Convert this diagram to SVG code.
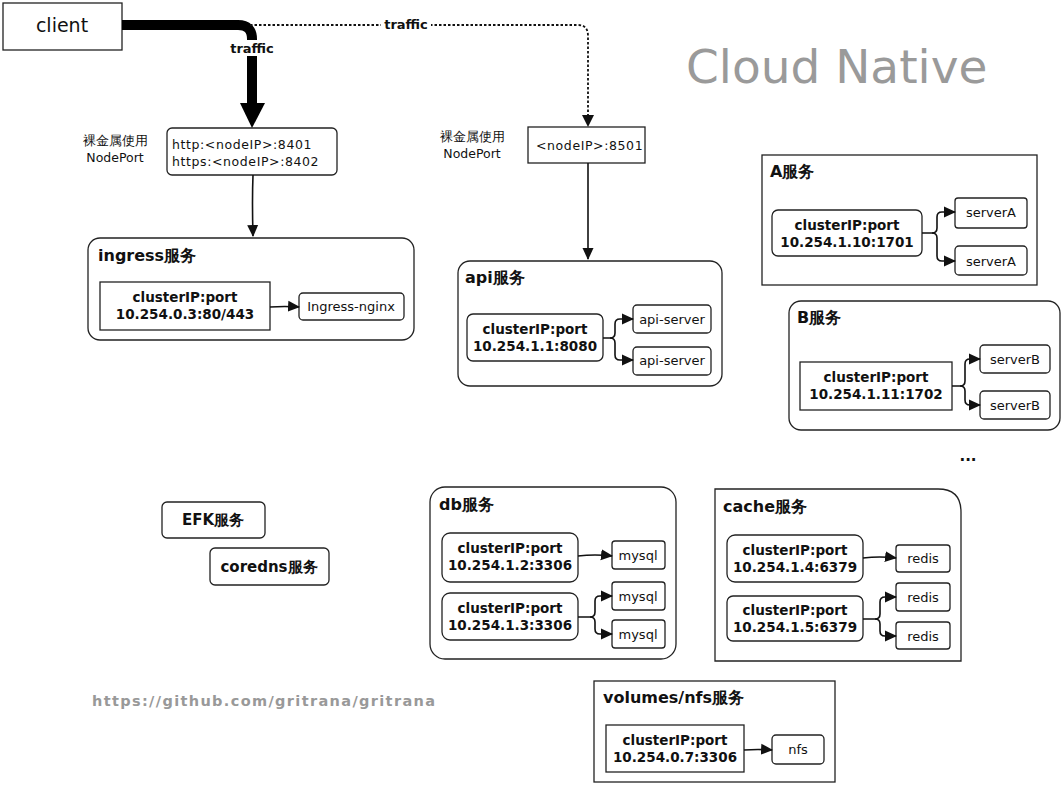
<svg xmlns="http://www.w3.org/2000/svg" width="1062" height="786" viewBox="0 0 1062 786">
<style>
text{font-family:"DejaVu Sans","Liberation Sans",sans-serif;fill:#111}
.box{fill:#fff;stroke:#222;stroke-width:1.3}
.t{font-size:16px;font-weight:bold}
.c{font-size:13.5px;font-weight:bold;text-anchor:middle}
.s{font-size:13px;text-anchor:middle}
.np{font-size:12.5px;letter-spacing:0.6px}
.lbl{font-size:12.5px;text-anchor:middle}
.ln{fill:none;stroke:#111;stroke-width:1.6}
.tr{font-size:13px;font-weight:bold;text-anchor:middle}
</style>
<defs>
<marker id="ah" markerWidth="12" markerHeight="12" refX="11" refY="6" orient="auto" markerUnits="userSpaceOnUse">
<path d="M0,0.5 L12,6 L0,11.5 Z" fill="#111"/>
</marker>
</defs>
<rect width="1062" height="786" fill="#fff"/>

<text x="686" y="83" style="font-size:47px;fill:#9a9a9a">Cloud Native</text>
<text x="92" y="706" textLength="343" lengthAdjust="spacing" style="font-size:14.5px;font-weight:bold;fill:#999">https://github.com/gritrana/gritrana</text>

<g id="client"><rect class="box" x="3" y="3" width="119" height="47"/><text x="62" y="32" style="font-size:19px;text-anchor:middle">client</text></g>

<g id="nodeport1">
<text x="115" y="145" class="lbl">裸金属使用</text><text x="115" y="162" class="lbl">NodePort</text>
<rect class="box" x="167" y="128" width="170" height="47" rx="5"/>
<text x="172" y="149" class="np">http:&lt;nodeIP&gt;:8401</text>
<text x="172" y="166" class="np">https:&lt;nodeIP&gt;:8402</text>
</g>

<g id="nodeport2">
<text x="472" y="141" class="lbl">裸金属使用</text><text x="472" y="158" class="lbl">NodePort</text>
<rect class="box" x="528" y="127" width="117" height="36"/>
<text x="536" y="150" class="np">&lt;nodeIP&gt;:8501</text>
</g>

<g id="ingress">
<rect class="box" x="88" y="238" width="326" height="102" rx="12"/>
<text x="98" y="261" class="t">ingress服务</text>
<rect class="box" x="100" y="282" width="170" height="48"/>
<text x="185" y="302" class="c">clusterIP:port</text><text x="185" y="319" class="c">10.254.0.3:80/443</text>
<rect class="box" x="299" y="293" width="105" height="27" rx="4"/>
<text x="351" y="311" class="s">Ingress-nginx</text>
</g>

<g id="api">
<rect class="box" x="458" y="261" width="264" height="125" rx="12"/>
<text x="465" y="283" class="t">api服务</text>
<rect class="box" x="467" y="314" width="136" height="47" rx="6"/>
<text x="535" y="334" class="c">clusterIP:port</text><text x="535" y="351" class="c">10.254.1.1:8080</text>
<rect class="box" x="633" y="305" width="78" height="28" rx="4"/>
<text x="672" y="324" class="s">api-server</text>
<rect class="box" x="633" y="347" width="78" height="28" rx="4"/>
<text x="672" y="365" class="s">api-server</text>
</g>

<g id="svcA">
<rect class="box" x="762" y="155" width="275" height="130"/>
<text x="770" y="177" class="t">A服务</text>
<rect class="box" x="772" y="210" width="150" height="46" rx="6"/>
<text x="847" y="230" class="c">clusterIP:port</text><text x="847" y="247" class="c">10.254.1.10:1701</text>
<rect class="box" x="955" y="198" width="72" height="30" rx="3"/>
<text x="991" y="217" class="s">serverA</text>
<rect class="box" x="955" y="246" width="72" height="29" rx="4"/>
<text x="991" y="266" class="s">serverA</text>
</g>

<g id="svcB">
<rect class="box" x="789" y="301" width="271" height="129" rx="12"/>
<text x="797" y="323" class="t">B服务</text>
<rect class="box" x="800" y="362" width="152" height="48"/>
<text x="876" y="382" class="c">clusterIP:port</text><text x="876" y="399" class="c">10.254.1.11:1702</text>
<rect class="box" x="980" y="345" width="70" height="28" rx="4"/>
<text x="1015" y="364" class="s">serverB</text>
<rect class="box" x="980" y="391" width="70" height="28" rx="4"/>
<text x="1015" y="410" class="s">serverB</text>
</g>
<text x="968" y="461" style="font-size:15px;font-weight:bold;text-anchor:middle">...</text>

<g id="efk"><rect class="box" x="162" y="502" width="103" height="36" rx="5"/><text x="213" y="525" style="font-size:15px;font-weight:bold;text-anchor:middle">EFK服务</text></g>
<g id="coredns"><rect class="box" x="210" y="548" width="119" height="37" rx="5"/><text x="269" y="572" style="font-size:15px;font-weight:bold;text-anchor:middle">coredns服务</text></g>

<g id="db">
<rect class="box" x="430" y="487" width="246" height="172" rx="15"/>
<text x="439" y="510" class="t">db服务</text>
<rect class="box" x="442" y="533" width="136" height="49" rx="8"/>
<text x="510" y="553" class="c">clusterIP:port</text><text x="510" y="570" class="c">10.254.1.2:3306</text>
<rect class="box" x="442" y="593" width="136" height="47" rx="8"/>
<text x="510" y="613" class="c">clusterIP:port</text><text x="510" y="630" class="c">10.254.1.3:3306</text>
<rect class="box" x="612" y="541" width="53" height="28" rx="3"/><text x="638" y="560" class="s">mysql</text>
<rect class="box" x="612" y="582" width="53" height="28" rx="3"/><text x="638" y="601" class="s">mysql</text>
<rect class="box" x="612" y="620" width="53" height="28" rx="3"/><text x="638" y="639" class="s">mysql</text>
</g>

<g id="cache">
<path class="box" d="M715,489 H938 Q961,489 961,512 V661 H715 Z"/>
<text x="723" y="512" class="t">cache服务</text>
<rect class="box" x="727" y="535" width="136" height="47" rx="8"/>
<text x="795" y="555" class="c">clusterIP:port</text><text x="795" y="572" class="c">10.254.1.4:6379</text>
<rect class="box" x="727" y="596" width="136" height="45" rx="6"/>
<text x="795" y="615" class="c">clusterIP:port</text><text x="795" y="632" class="c">10.254.1.5:6379</text>
<rect class="box" x="896" y="545" width="54" height="27" rx="3"/><text x="923" y="563" class="s">redis</text>
<rect class="box" x="896" y="583" width="54" height="28" rx="3"/><text x="923" y="602" class="s">redis</text>
<rect class="box" x="896" y="622" width="54" height="27" rx="3"/><text x="923" y="641" class="s">redis</text>
</g>

<g id="volumes">
<rect class="box" x="594" y="681" width="241" height="101"/>
<text x="603" y="703" class="t">volumes/nfs服务</text>
<rect class="box" x="606" y="725" width="138" height="47"/>
<text x="675" y="745" class="c">clusterIP:port</text><text x="675" y="762" class="c">10.254.0.7:3306</text>
<rect class="box" x="772" y="735" width="52" height="29" rx="4"/>
<text x="798" y="754" class="s">nfs</text>
</g>

<g id="connectors">
<path d="M122,25 H238 Q252,25 252,39 V104" fill="none" stroke="#000" stroke-width="10"/>
<path d="M240,103 L265,103 L252,128 Z" fill="#000"/>
<rect x="228" y="40" width="48" height="16" fill="#fff"/>
<text x="252" y="53" class="tr">traffic</text>
<path d="M250,25 H578 Q588,25 588,36 V116" fill="none" stroke="#111" stroke-width="1.8" stroke-dasharray="2.5,2"/>
<path d="M582,115 L594,115 L588,127 Z" fill="#111"/>
<rect x="381" y="17" width="50" height="16" fill="#fff"/>
<text x="406" y="29" class="tr">traffic</text>
<path class="ln" d="M253,175 Q252,200 253,236" marker-end="url(#ah)"/>
<path class="ln" d="M588,163 V259" marker-end="url(#ah)"/>
<path class="ln" d="M270,307 Q285,306 299,307" marker-end="url(#ah)"/>
<path class="ln" d="M603,338 H610 Q615,338 615,333 V324 Q615,319 620,319 H633" marker-end="url(#ah)"/>
<path class="ln" d="M610,338 Q615,338 615,343 V355 Q615,360 620,360 H633" marker-end="url(#ah)"/>
<path class="ln" d="M922,233 H932 Q937,233 937,228 V217 Q937,212 942,212 H955" marker-end="url(#ah)"/>
<path class="ln" d="M932,233 Q937,233 937,238 V256 Q937,261 942,261 H955" marker-end="url(#ah)"/>
<path class="ln" d="M952,386 H960 Q965,386 965,381 V364 Q965,359 970,359 H980" marker-end="url(#ah)"/>
<path class="ln" d="M960,386 Q965,386 965,391 V400 Q965,405 970,405 H980" marker-end="url(#ah)"/>
<path class="ln" d="M578,556 Q595,554 612,556" marker-end="url(#ah)"/>
<path class="ln" d="M578,617 H590 Q595,617 595,612 V601 Q595,596 600,596 H612" marker-end="url(#ah)"/>
<path class="ln" d="M590,617 Q595,617 595,622 V629 Q595,634 600,634 H612" marker-end="url(#ah)"/>
<path class="ln" d="M863,558 Q880,556 896,558" marker-end="url(#ah)"/>
<path class="ln" d="M863,619 H875 Q880,619 880,614 V602 Q880,597 885,597 H896" marker-end="url(#ah)"/>
<path class="ln" d="M875,619 Q880,619 880,624 V631 Q880,636 885,636 H896" marker-end="url(#ah)"/>
<path class="ln" d="M744,750 Q758,749 772,750" marker-end="url(#ah)"/>
</g>
</svg>
